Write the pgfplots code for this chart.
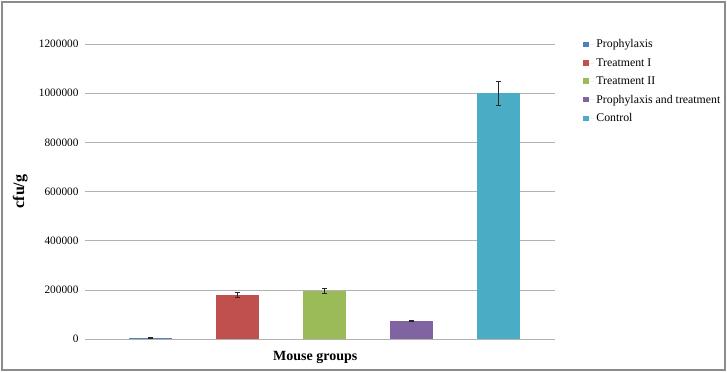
\documentclass[border=0pt]{standalone}
\usepackage{fontspec}
\setmainfont{Liberation Serif}
\usepackage{pgfplots}
\pgfplotsset{compat=1.18}
\definecolor{c1}{HTML}{4F81BD}
\definecolor{c2}{HTML}{C0504D}
\definecolor{c3}{HTML}{9BBB59}
\definecolor{c4}{HTML}{8064A2}
\definecolor{c5}{HTML}{4BACC6}
\begin{document}
\begin{tikzpicture}[x=1pt,y=1pt]
\useasboundingbox (0,0) rectangle (727,372);
\draw[black!45, line width=1.5pt] (2,2) rectangle (725,370);
\begin{axis}[
  at={(85pt,33pt)}, anchor=south west,
  scale only axis, width=470pt, height=295pt,
  xmin=-0.75, xmax=4.65, ymin=0, ymax=1200000,
  ytick={0,200000,400000,600000,800000,1000000,1200000},
  scaled y ticks=false,
  /pgf/number format/fixed, /pgf/number format/1000 sep={},
  /pgf/number format/assume math mode=true,
  yticklabel style={font=\fontsize{11.3}{11.3}\selectfont, xshift=-3pt},
  xtick=\empty,
  major tick length=0pt,
  axis line style={draw=none},
  ymajorgrids, grid style={black!30, line width=0.6pt},
  ybar, bar width=0.5,
  every axis plot/.append style={bar shift=0pt, draw=none},
  error bars/error bar style={black!85, line width=0.6pt},
  error bars/error mark options={rotate=90, mark size=2.6pt, black!85, line width=0.6pt},
  ylabel={\fontsize{16}{16}\selectfont\bfseries cfu/g},
  ylabel style={at={(axis description cs:-0.138,0.5)}, anchor=center},
  xlabel={\fontsize{14}{14}\selectfont\bfseries Mouse groups},
  xlabel style={at={(axis description cs:0.49,-0.064)}, anchor=center},
  legend style={at={(1.06,1.022)}, anchor=north west, draw=none, fill=none,
    font=\fontsize{11.8}{13}\selectfont, row sep=5pt, inner sep=0pt},
  legend cell align=left,
  legend image code/.code={\fill[#1] (0pt,-2.8pt) rectangle (5.6pt,2.8pt); \path (0pt,0pt) -- (11pt,0pt);},
]
\addplot[fill=c1, error bars/.cd, y dir=both, y explicit] coordinates {(0,5000) +- (0,1500)};
\addplot[fill=c2, error bars/.cd, y dir=both, y explicit] coordinates {(1,180000) +- (0,10000)};
\addplot[fill=c3, error bars/.cd, y dir=both, y explicit] coordinates {(2,195000) +- (0,10000)};
\addplot[fill=c4, error bars/.cd, y dir=both, y explicit] coordinates {(3,74000) +- (0,4000)};
\addplot[fill=c5, error bars/.cd, y dir=both, y explicit] coordinates {(4,1000000) +- (0,50000)};
\legend{Prophylaxis, Treatment I, Treatment II, Prophylaxis and treatment, Control}
\end{axis}
\end{tikzpicture}
\end{document}
